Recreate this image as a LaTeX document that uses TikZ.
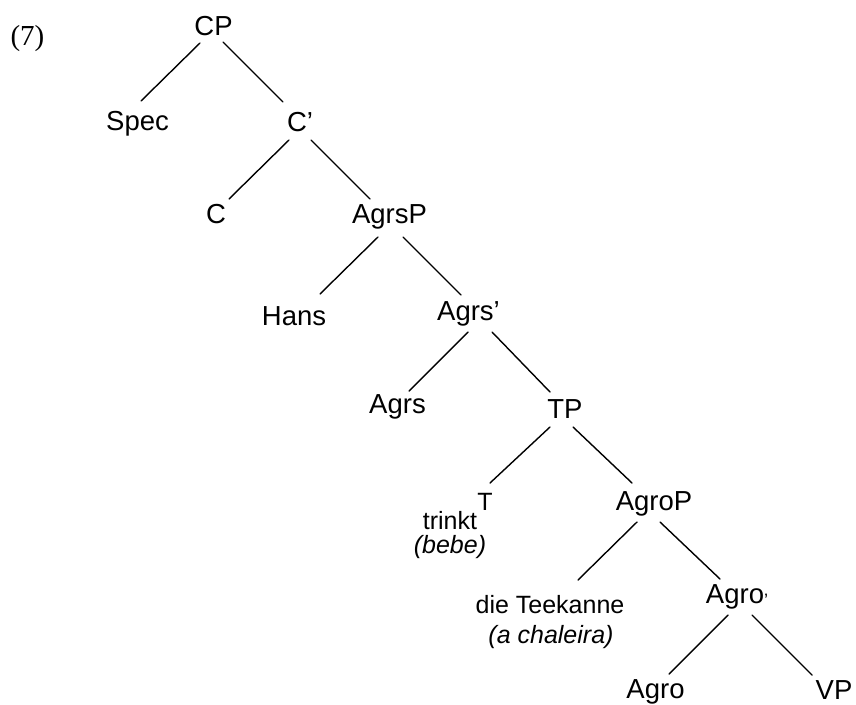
\documentclass[tikz,border=0pt]{standalone}
\usepackage{fontspec}
\setmainfont{Liberation Sans}
\newfontfamily\numfont{Liberation Serif}
\usetikzlibrary{calc}
\begin{document}
\begin{tikzpicture}[x=1pt,y=-1pt,
  lab/.style={font=\fontsize{27.5}{30}\selectfont, anchor=base, inner sep=0pt},
  wd/.style={font=\fontsize{25}{28}\selectfont, anchor=base, inner sep=0pt},
  br/.style={line width=1.4pt, line cap=round}]
\useasboundingbox (0,0) rectangle (856,704);
\node[anchor=base, inner sep=0pt, font=\numfont\fontsize{29}{32}\selectfont] (n7) at (27.5,45) {(7)};
\node[lab] (cp) at (213.5,35) {CP};
\node[lab] (spec) at (137.5,130) {Spec};
\node[lab] (cbar) at (300,131) {C’};
\node[lab] (c) at (216,223) {C};
\node[lab] (agrsp) at (389.5,223) {AgrsP};
\node[lab] (hans) at (294,325) {Hans};
\node[lab] (agrsbar) at (468.5,320) {Agrs’};
\node[lab] (agrs) at (397.5,413) {Agrs};
\node[lab] (tp) at (565,418) {TP};
\node[wd] (t) at (485,510) {T};
\node[wd] (trinkt) at (450,529) {trinkt};
\node[wd] (bebe) at (450,553) {\itshape (bebe)};
\node[lab] (agrop) at (654,510) {AgroP};
\node[wd] (teek) at (550,613) {die Teekanne};
\node[wd] (chal) at (551,643) {\itshape (a chaleira)};
\node[lab] (agrobar) at (737,603) {Agro\raisebox{-3pt}{\fontsize{18}{18}\selectfont ’}};
\node[lab] (agro) at (655.5,698) {Agro};
\node[lab] (vp) at (834,699) {VP};
\draw[br] ($(cp.base)+(-13.5,8)$) -- ($(spec.base)+(3.5,-29)$);
\draw[br] ($(cp.base)+(9.5,7)$) -- ($(cbar.base)+(-17,-29)$);
\draw[br] ($(cbar.base)+(-11,9)$) -- ($(c.base)+(13,-24)$);
\draw[br] ($(cbar.base)+(11,9)$) -- ($(agrsp.base)+(-19.5,-24)$);
\draw[br] ($(agrsp.base)+(-11.5,14)$) -- ($(hans.base)+(26,-31)$);
\draw[br] ($(agrsp.base)+(13.5,14)$) -- ($(agrsbar.base)+(-7.5,-25)$);
\draw[br] ($(agrsbar.base)+(-0.5,12)$) -- ($(agrs.base)+(11.5,-22)$);
\draw[br] ($(agrsbar.base)+(23.5,12)$) -- ($(tp.base)+(-15,-26)$);
\draw[br] ($(tp.base)+(-15,9)$) -- ($(t.base)+(5,-27)$);
\draw[br] ($(tp.base)+(8,9)$) -- ($(agrop.base)+(-22,-27)$);
\draw[br] ($(agrop.base)+(-17,12)$) -- ($(teek.base)+(28,-33)$);
\draw[br] ($(agrop.base)+(6,12)$) -- ($(agrobar.base)+(-17,-24)$);
\draw[br] ($(agrobar.base)+(-9,12)$) -- ($(agro.base)+(13.5,-24)$);
\draw[br] ($(agrobar.base)+(15,12)$) -- ($(vp.base)+(-22,-24)$);
\end{tikzpicture}
\end{document}
